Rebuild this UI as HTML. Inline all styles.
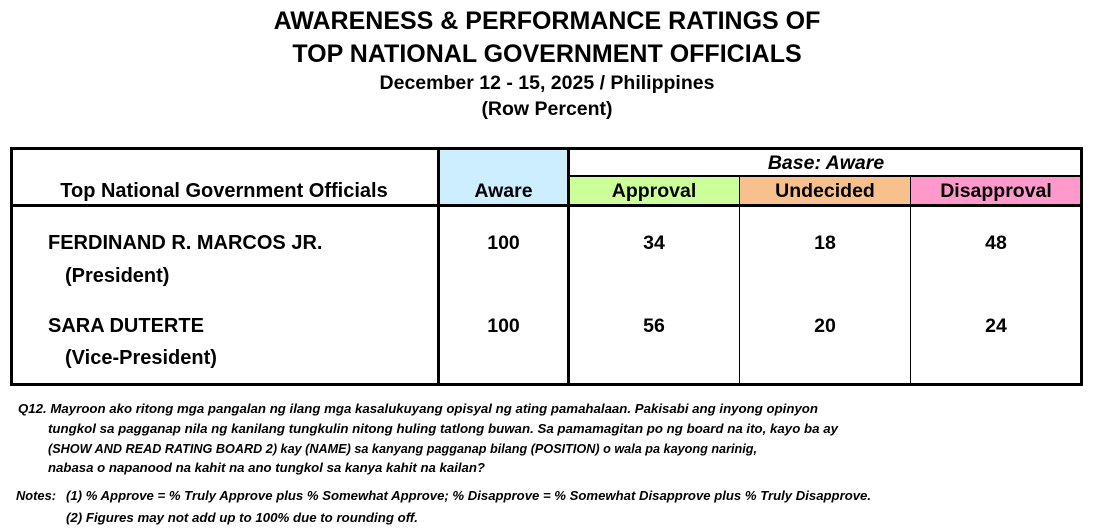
<!DOCTYPE html>
<html><head><meta charset="utf-8"><style>
body{margin:0;width:1094px;height:532px;background:#fff;position:relative;overflow:hidden;font-family:"Liberation Sans",Arial,sans-serif;font-weight:bold;color:#000}
.t{position:absolute;left:0;width:1094px;text-align:center}
.box{position:absolute;box-sizing:border-box}
.c{position:absolute;text-align:center;font-size:19.5px}
.l{position:absolute;font-size:20px}
</style></head><body>
<div class="t" style="top:7px;font-size:25px">AWARENESS &amp; PERFORMANCE RATINGS OF</div>
<div class="t" style="top:40px;font-size:25px">TOP NATIONAL GOVERNMENT OFFICIALS</div>
<div class="t" style="top:72px;font-size:19.5px">December 12 - 15, 2025 / Philippines</div>
<div class="t" style="top:98px;font-size:19.5px">(Row Percent)</div>

<div class="box" style="left:439px;top:150px;width:129px;height:54px;background:#cceeff"></div>
<div class="box" style="left:569px;top:177px;width:170px;height:27px;background:#ccff99"></div>
<div class="box" style="left:740px;top:177px;width:170px;height:27px;background:#f8c08c"></div>
<div class="box" style="left:911px;top:177px;width:170px;height:27px;background:#ff99cc"></div>

<div class="box" style="left:10px;top:147px;width:1073px;height:239px;border:3px solid #000"></div>
<div class="box" style="left:10px;top:204px;width:1073px;height:3px;background:#000"></div>
<div class="box" style="left:437px;top:147px;width:3px;height:239px;background:#000"></div>
<div class="box" style="left:567px;top:147px;width:3px;height:239px;background:#000"></div>
<div class="box" style="left:568px;top:175px;width:515px;height:2px;background:#000"></div>
<div class="box" style="left:739px;top:176px;width:1px;height:210px;background:#000"></div>
<div class="box" style="left:910px;top:176px;width:1px;height:210px;background:#000"></div>

<div class="c" style="left:10px;width:428px;top:180px;font-size:20px">Top National Government Officials</div>
<div class="c" style="left:439px;width:129px;top:180px">Aware</div>
<div class="c" style="left:569px;width:514px;top:152px;font-style:italic">Base: Aware</div>
<div class="c" style="left:569px;width:170px;top:180px">Approval</div>
<div class="c" style="left:740px;width:170px;top:180px">Undecided</div>
<div class="c" style="left:911px;width:170px;top:180px">Disapproval</div>

<div class="l" style="left:48px;top:232px">FERDINAND R. MARCOS JR.</div>
<div class="l" style="left:65px;top:265px">(President)</div>
<div class="l" style="left:48px;top:315px">SARA DUTERTE</div>
<div class="l" style="left:65px;top:347px">(Vice-President)</div>
<div class="c" style="left:439px;width:129px;top:232px">100</div>
<div class="c" style="left:569px;width:170px;top:232px">34</div>
<div class="c" style="left:740px;width:170px;top:232px">18</div>
<div class="c" style="left:911px;width:170px;top:232px">48</div>
<div class="c" style="left:439px;width:129px;top:315px">100</div>
<div class="c" style="left:569px;width:170px;top:315px">56</div>
<div class="c" style="left:740px;width:170px;top:315px">20</div>
<div class="c" style="left:911px;width:170px;top:315px">24</div>

<svg width="1094" height="532" style="position:absolute;left:0;top:0" font-family="Liberation Sans, Arial, sans-serif" font-weight="bold" font-style="italic" font-size="13">
<text x="18" y="413" textLength="800" lengthAdjust="spacingAndGlyphs">Q12. Mayroon ako ritong mga pangalan ng ilang mga kasalukuyang opisyal ng ating pamahalaan. Pakisabi ang inyong opinyon</text>
<text x="48" y="433" textLength="790" lengthAdjust="spacingAndGlyphs">tungkol sa pagganap nila ng kanilang tungkulin nitong huling tatlong buwan. Sa pamamagitan po ng board na ito, kayo ba ay</text>
<text x="48" y="453" textLength="709" lengthAdjust="spacingAndGlyphs">(SHOW AND READ RATING BOARD 2) kay (NAME) sa kanyang pagganap bilang (POSITION) o wala pa kayong narinig,</text>
<text x="48" y="472" textLength="437" lengthAdjust="spacingAndGlyphs">nabasa o napanood na kahit na ano tungkol sa kanya kahit na kailan?</text>
<text x="16" y="500" textLength="40" lengthAdjust="spacingAndGlyphs">Notes:</text>
<text x="66" y="500" textLength="805" lengthAdjust="spacingAndGlyphs">(1) % Approve = % Truly Approve plus % Somewhat Approve; % Disapprove = % Somewhat Disapprove plus % Truly Disapprove.</text>
<text x="66" y="522" textLength="352" lengthAdjust="spacingAndGlyphs">(2) Figures may not add up to 100% due to rounding off.</text>
</svg>
</body></html>
